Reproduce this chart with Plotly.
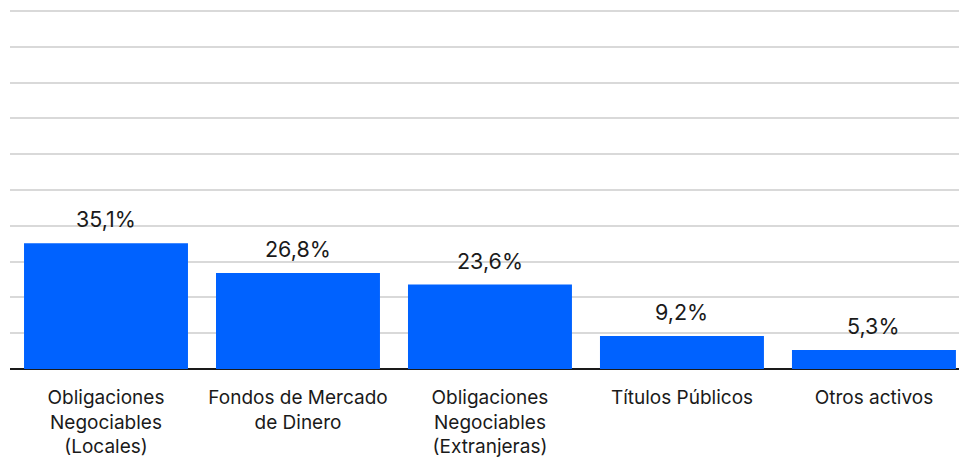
import plotly.graph_objects as go

categories = [
    "Obligaciones<br>Negociables<br>(Locales)",
    "Fondos de Mercado<br>de Dinero",
    "Obligaciones<br>Negociables<br>(Extranjeras)",
    "Títulos Públicos",
    "Otros activos",
]
values = [35.1, 26.8, 23.6, 9.2, 5.3]
labels = [f"{v:.1f}%".replace(".", ",") for v in values]

FONT = "Inter, Roboto, sans-serif"
xs = list(range(len(categories)))

fig = go.Figure(
    go.Bar(
        x=xs,
        y=values,
        marker=dict(color="#0062FF", line=dict(width=0)),
        hoverinfo="skip",
    )
)

for x, v, t in zip(xs, values, labels):
    fig.add_annotation(
        x=x, y=v, text=t, showarrow=False,
        yanchor="bottom", yshift=9,
        font=dict(size=21.5, color="#1a1a1a", family=FONT),
    )

fig.update_layout(
    width=959,
    height=459,
    margin=dict(l=10, r=0, t=10, b=90),
    paper_bgcolor="white",
    plot_bgcolor="white",
    bargap=0.146,
    showlegend=False,
    font=dict(family=FONT, color="#1a1a1a"),
)
fig.update_xaxes(
    tickmode="array",
    tickvals=xs,
    ticktext=categories,
    range=[-0.5, 4.443],
    tickfont=dict(size=19, color="#1a1a1a"),
    showline=False,
    showgrid=False,
    ticks="",
    ticklabelstandoff=15,
    automargin=False,
)
fig.update_yaxes(
    range=[0, 100.3],
    dtick=10,
    showticklabels=False,
    showgrid=True,
    gridcolor="#d9d9d9",
    gridwidth=1.5,
    zeroline=True,
    zerolinecolor="#1a1a1a",
    zerolinewidth=2,
    showline=False,
    automargin=False,
)

fig.write_html(
    "out.html",
    config={"displayModeBar": False},
    post_script="document.body.style.margin='0';document.body.style.overflow='hidden';",
)
